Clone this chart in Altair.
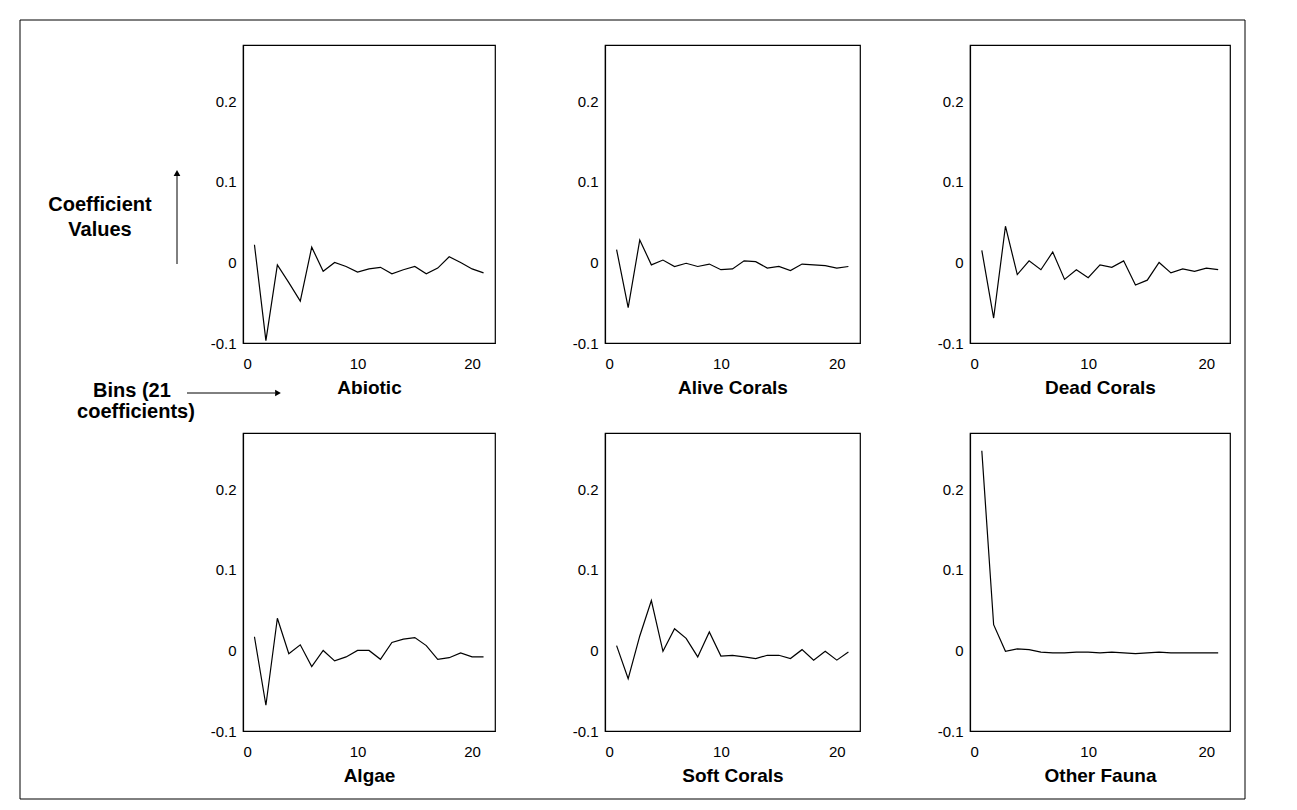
import altair as alt
import pandas as pd

bins = list(range(1, 22))

abiotic = [0.022, -0.097, -0.003, -0.025, -0.048, 0.019, -0.011, 0.0, -0.005, -0.012,
           -0.008, -0.006, -0.014, -0.009, -0.005, -0.014, -0.007, 0.007, 0.0, -0.008, -0.013]
alive_corals = [0.016, -0.056, 0.028, -0.003, 0.003, -0.005, -0.001, -0.005, -0.002, -0.009,
                -0.008, 0.002, 0.001, -0.007, -0.005, -0.010, -0.002, -0.003, -0.004, -0.007, -0.005]
dead_corals = [0.015, -0.069, 0.045, -0.015, 0.002, -0.009, 0.013, -0.021, -0.009, -0.019,
               -0.003, -0.006, 0.002, -0.028, -0.022, 0.0, -0.013, -0.008, -0.011, -0.007, -0.009]
algae = [0.017, -0.068, 0.040, -0.004, 0.007, -0.020, 0.0, -0.013, -0.008, 0.0,
         0.0, -0.011, 0.010, 0.014, 0.016, 0.006, -0.011, -0.009, -0.003, -0.008, -0.008]
soft_corals = [0.006, -0.035, 0.018, 0.062, -0.001, 0.027, 0.015, -0.008, 0.023, -0.007,
               -0.006, -0.008, -0.010, -0.006, -0.006, -0.010, 0.001, -0.012, -0.001, -0.012, -0.002]
other_fauna = [0.248, 0.032, -0.001, 0.002, 0.001, -0.002, -0.003, -0.003, -0.002, -0.002,
               -0.003, -0.002, -0.003, -0.004, -0.003, -0.002, -0.003, -0.003, -0.003, -0.003, -0.003]

panel_names = ["Abiotic", "Alive Corals", "Dead Corals", "Algae", "Soft Corals", "Other Fauna"]
panel_values = [abiotic, alive_corals, dead_corals, algae, soft_corals, other_fauna]

x_ticks = [0, 10, 20]
y_ticks = [-0.1, 0, 0.1, 0.2]

FONT = "Liberation Sans"
col_widths = [252, 255, 260]
PANEL_H = 298

y_label_expr = ("datum.value == 0 ? '0' : (datum.value < 0 ? '-' + format(-datum.value, '.1f') "
                ": format(datum.value, '.1f'))")


def panel(name, vals, width):
    df = pd.DataFrame({"bin": bins, "value": vals})
    return alt.Chart(df).mark_line(color="black", strokeWidth=1.2).encode(
        x=alt.X("bin:Q", scale=alt.Scale(domain=[0, 22], nice=False, zero=False),
                axis=alt.Axis(values=x_ticks, title=name, format="d")),
        y=alt.Y("value:Q", scale=alt.Scale(domain=[-0.1, 0.27], nice=False, zero=False),
                axis=alt.Axis(values=y_ticks, title=None, labelExpr=y_label_expr)),
    ).properties(width=width, height=PANEL_H)


one = pd.DataFrame({"k": [0]})


def text_at(label, x, y, size=20, align="center"):
    return alt.Chart(pd.DataFrame({"t": [label]})).mark_text(
        font=FONT, fontSize=size, fontWeight="bold", color="black", align=align, baseline="middle"
    ).encode(text="t:N", x=alt.value(x), y=alt.value(y))


def rule_at(x, x2, y, y2):
    return alt.Chart(one).mark_rule(color="black", strokeWidth=1).encode(
        x=alt.value(x), x2=alt.value(x2), y=alt.value(y), y2=alt.value(y2))


def head_at(shape, x, y):
    return alt.Chart(one).mark_point(shape=shape, filled=True, color="black", size=45, opacity=1).encode(
        x=alt.value(x), y=alt.value(y))


frame = alt.Chart(one).mark_rect(fillOpacity=0, stroke="black", strokeWidth=1).encode(
    x=alt.value(-223), x2=alt.value(1002), y=alt.value(-25), y2=alt.value(754))

annotations = [
    frame,
    text_at("Coefficient", -143, 160),
    text_at("Values", -143, 185),
    rule_at(-66, -66, 219, 130),
    head_at("triangle-up", -66, 128),
    text_at("Bins (21", -150, 346, align="left"),
    rule_at(-56, 32, 348, 348),
    head_at("triangle-right", 35, 348),
    text_at("coefficients)", -107, 367),
]

charts = [panel(n, v, col_widths[i % 3]) for i, (n, v) in enumerate(zip(panel_names, panel_values))]
charts[0] = alt.layer(charts[0], *annotations)

chart = alt.concat(
    *charts, columns=3, spacing={"row": 90, "column": 110}, bounds="flush"
).properties(
    padding={"left": 10, "top": 10, "right": 5, "bottom": 5}
).configure_view(
    stroke="black", strokeWidth=1.2
).configure_axis(
    grid=False, ticks=False, tickSize=0, domainColor="black", domainWidth=1.2,
    labelFont=FONT, labelFontSize=15, labelColor="black",
    titleFont=FONT, titleFontSize=19, titleFontWeight="bold", titleColor="black"
).configure_axisX(
    labelPadding=13, titlePadding=7
).configure_axisY(
    labelPadding=7
)

chart.save("out.html", embed_options={"renderer": "svg", "actions": False})
